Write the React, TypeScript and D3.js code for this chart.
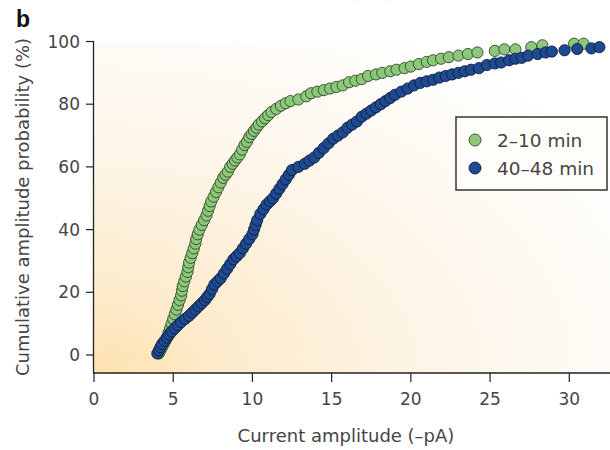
import React from "react";
import * as d3 from "d3";

const green: [number, number][] = [
  [4.1,0.5],[4.2,1.5],[4.3,2.5],[4.4,3.5],[4.5,4.5],[4.6,5.5],[4.7,7],[4.8,8.5],[4.9,10],[5.0,11.5],[5.1,13],[5.2,14.5],[5.3,16],[5.4,17.5],[5.5,19],[5.55,20.5],[5.6,22],[5.7,23.5],[5.8,25],[5.9,26.5],[5.95,28],[6.0,29.5],[6.1,31],[6.2,32.5],[6.3,34],[6.4,35.5],[6.45,37],[6.55,38.5],[6.65,40],[6.8,41.5],[6.95,43],[7.1,44.5],[7.2,46],[7.3,47.5],[7.4,49],[7.55,50.5],[7.7,52],[7.85,53.5],[8.0,55],[8.15,56.5],[8.3,57.5],[8.45,58.5],[8.6,60],[8.75,61],[8.9,62],[9.05,63],[9.2,64],[9.35,65.5],[9.5,67],[9.65,68],[9.8,69.5],[9.95,70.5],[10.1,71.5],[10.25,72.5],[10.4,73.5],[10.6,74.5],[10.8,75.5],[11.0,76.5],[11.2,77.5],[11.5,78.5],[11.8,79.5],[12.1,80.3],[12.4,81],[12.9,81.5],[13.4,82.5],[13.7,83.5],[14.1,84],[14.5,84.5],[14.9,85],[15.3,85.5],[15.7,86],[16.1,87],[16.5,87.5],[16.9,88],[17.3,89],[17.8,89.5],[18.2,90],[18.7,90.5],[19.1,91],[19.6,91.5],[20.0,92],[20.5,92.8],[21.0,93.5],[21.4,94],[21.9,94.5],[22.4,95],[23.0,95.5],[23.6,96],[24.2,96.5],[25.3,97],[25.9,97.5],[26.6,97.5],[27.6,98.2],[28.3,98.8],[30.3,99.3],[30.9,99.3]
];

const blue: [number, number][] = [
  [4.0,0.5],[4.1,1.5],[4.2,2.5],[4.3,3.5],[4.45,4.5],[4.6,5.5],[4.75,6.5],[4.9,7.5],[5.1,8.5],[5.3,9.5],[5.5,10.5],[5.75,11.5],[6.0,12.5],[6.2,13.5],[6.4,14.5],[6.6,15.5],[6.8,16.5],[7.0,17.5],[7.15,18.5],[7.3,19.5],[7.45,21],[7.6,22.5],[7.8,23.5],[8.0,24.5],[8.2,26],[8.4,27.5],[8.6,29],[8.8,30.5],[9.0,31.5],[9.2,32.5],[9.4,34],[9.6,35.5],[9.8,37],[10.0,38.5],[10.1,40],[10.2,41.5],[10.3,43],[10.5,45],[10.7,46.5],[10.9,48],[11.1,49],[11.3,50],[11.5,51.5],[11.7,53],[11.9,54.5],[12.1,56],[12.3,57.5],[12.5,59],[12.9,60],[13.3,61],[13.6,62],[13.9,63],[14.2,64.5],[14.5,66],[14.8,67.5],[15.1,69],[15.4,70],[15.7,71],[16.0,72.5],[16.3,73.5],[16.6,74.5],[16.9,76],[17.2,77],[17.5,78],[17.8,79],[18.1,80],[18.4,81],[18.7,82],[19.0,83],[19.4,84],[19.8,85],[20.2,86],[20.6,86.8],[21.0,87.3],[21.4,87.8],[21.8,88.5],[22.2,89],[22.6,89.5],[23.0,90],[23.4,90.5],[23.8,91],[24.3,91.5],[24.8,92.5],[25.3,93],[25.7,93.3],[26.2,94],[26.6,94.5],[27.0,94.8],[27.4,95.5],[28.0,96],[28.5,96.5],[28.9,96.8],[29.7,97.2],[30.5,97.6],[31.4,97.8],[31.9,98.2]
];

const seriesNames = ["2\u201310 min", "40\u201348 min"];
const xTicks = [0, 5, 10, 15, 20, 25, 30];
const yTicks = [0, 20, 40, 60, 80, 100];

const FONT = "'DejaVu Sans', Verdana, sans-serif";
const TXT = "#454545";
const GREEN_FILL = "#8dc77b";
const GREEN_STROKE = "#2d4a26";
const BLUE_FILL = "#1f4a8f";
const BLUE_STROKE = "#0b1d42";

export default function App() {
  const W = 610, H = 450;
  const left = 94, right = 610, top = 41.5, bottom = 373;
  const x = d3.scaleLinear().domain([0, 30]).range([94, 569.3]);
  const y = d3.scaleLinear().domain([0, 100]).range([355, 41.5]);
  const r = 5.6;

  return (
    <svg width={W} height={H} style={{ position: "absolute", left: 0, top: 0, background: "#fff" }}>
      <defs>
        <radialGradient id="bg" cx="0" cy="1" r="1.2" fx="0" fy="1">
          <stop offset="0" stopColor="#fde2b0" />
          <stop offset="0.22" stopColor="#fdecce" />
          <stop offset="0.55" stopColor="#fdf5e8" />
          <stop offset="1" stopColor="#ffffff" />
        </radialGradient>
      </defs>
      <text x={350} y={-2} fontFamily={FONT} fontSize={16} fill="#c8c8c8" textAnchor="middle">Time (min)</text>
      <rect x={left} y={top} width={right - left} height={bottom - top} fill="url(#bg)" />

      {/* axes */}
      <line x1={left - 0.5} x2={left - 0.5} y1={top} y2={bottom} stroke="#222" strokeWidth={1.3} />
      <line x1={left - 1} x2={right} y1={bottom} y2={bottom} stroke="#222" strokeWidth={1.3} />
      {yTicks.map((t) => (
        <g key={"y" + t}>
          <line x1={left - 8} x2={left} y1={y(t)} y2={y(t)} stroke="#222" strokeWidth={1.2} />
          <text x={80} y={y(t) + 6} fontFamily={FONT} fontSize={17} fill={TXT} textAnchor="end">{t}</text>
        </g>
      ))}
      {xTicks.map((t) => (
        <g key={"x" + t}>
          <line x1={x(t)} x2={x(t)} y1={bottom} y2={bottom + 9} stroke="#222" strokeWidth={1.2} />
          <text x={x(t)} y={405} fontFamily={FONT} fontSize={17} fill={TXT} textAnchor="middle">{t}</text>
        </g>
      ))}
      <text x={346} y={442} fontFamily={FONT} fontSize={18} fill={TXT} textAnchor="middle">Current amplitude (–pA)</text>
      <text transform="translate(29,207) rotate(-90)" fontFamily={FONT} fontSize={18} fill={TXT} textAnchor="middle">Cumulative amplitude probability (%)</text>
      <text x={16} y={27} fontFamily="'Liberation Sans', Arial, sans-serif" fontSize={23} fontWeight="bold" fill="#111">b</text>

      {/* data */}
      <g>
        {green.map((d, i) => (
          <circle key={"g" + i} cx={x(d[0])} cy={y(d[1])} r={r} fill={GREEN_FILL} stroke={GREEN_STROKE} strokeWidth={0.9} />
        ))}
      </g>
      <g>
        {blue.map((d, i) => (
          <circle key={"b" + i} cx={x(d[0])} cy={y(d[1])} r={r} fill={BLUE_FILL} stroke={BLUE_STROKE} strokeWidth={0.9} />
        ))}
      </g>

      {/* legend */}
      <rect x={456} y={117} width={151} height={73} fill="#fffdf9" stroke="#333" strokeWidth={1.5} />
      <circle cx={475} cy={140} r={6} fill={GREEN_FILL} stroke={GREEN_STROKE} strokeWidth={0.9} />
      <circle cx={475} cy={168} r={6} fill={BLUE_FILL} stroke={BLUE_STROKE} strokeWidth={0.9} />
      <text x={497} y={147} fontFamily={FONT} fontSize={18.5} fill={TXT}>{seriesNames[0]}</text>
      <text x={497} y={175} fontFamily={FONT} fontSize={18.5} fill={TXT}>{seriesNames[1]}</text>
    </svg>
  );
}
